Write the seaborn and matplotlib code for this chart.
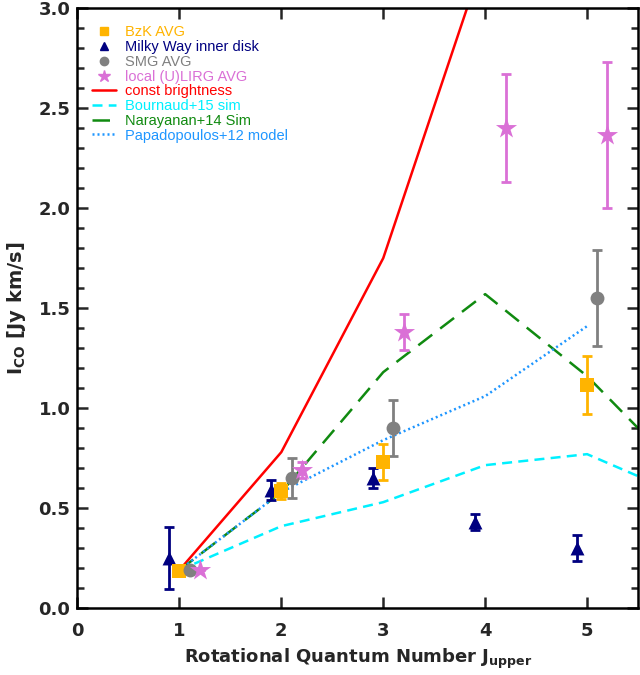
import matplotlib
matplotlib.use('Agg')
import matplotlib.pyplot as plt
from matplotlib.lines import Line2D
from matplotlib.ticker import MultipleLocator, FormatStrFormatter
import pandas as pd
import seaborn as sns

# values
J_MODEL = [1, 2, 3, 4, 5, 6]
CONST_BRIGHT = [0.19, 0.78, 1.75, 3.27, 4.95, 7.0]
BOURNAUD = [0.19, 0.41, 0.53, 0.715, 0.77, 0.55]
NARAYANAN = [0.19, 0.58, 1.18, 1.57, 1.16, 0.64]
J_PAPA = [1, 2, 3, 4, 5]
PAPADOPOULOS = [0.19, 0.58, 0.84, 1.06, 1.41]

J_BZK = [1.0, 2.0, 3.0, 5.0]
BZK = [0.187, 0.585, 0.73, 1.115]
BZK_ERR = [0.0, 0.04, 0.09, 0.145]

J_MW = [0.9, 1.9, 2.9, 3.9, 4.9]
MW = [0.25, 0.59, 0.65, 0.43, 0.30]
MW_ERR = [0.155, 0.05, 0.05, 0.04, 0.065]

J_SMG = [1.1, 2.1, 3.1, 5.1]
SMG = [0.19, 0.65, 0.90, 1.55]
SMG_ERR = [0.0, 0.10, 0.14, 0.24]

J_LIRG = [1.2, 2.2, 3.2, 4.2, 5.2]
LIRG = [0.19, 0.69, 1.38, 2.40, 2.365]
LIRG_ERR = [0.0, 0.04, 0.09, 0.27, 0.365]

C_BZK = '#FFB400'
C_MW = '#000080'
C_SMG = '#808080'
C_LIRG = '#DA70D6'
C_RED = '#FF0000'
C_CYAN = '#00F0FF'
C_GREEN = '#108A10'
C_BLUE = '#1E96FF'

sns.set_theme(style="ticks")
plt.rcParams['font.family'] = ['DejaVu Sans']
plt.rcParams['mathtext.default'] = 'bf'

fig = plt.figure(figsize=(6.4, 6.75), dpi=100)
ax = fig.add_axes([0.121, 0.099, 0.876, 0.889])

# model curves
lines = [
    (J_MODEL, CONST_BRIGHT, C_RED, None, 'const brightness'),
    (J_MODEL, BOURNAUD, C_CYAN, (4, 2.5), 'Bournaud+15 sim'),
    (J_MODEL, NARAYANAN, C_GREEN, (7, 4), 'Narayanan+14 Sim'),
    (J_PAPA, PAPADOPOULOS, C_BLUE, (0.8, 1.2), 'Papadopoulos+12 model'),
]
for xs, ys, col, dash, name in lines:
    df = pd.DataFrame({'J': xs, 'I': ys})
    l = sns.lineplot(data=df, x='J', y='I', color=col, lw=1.8, ax=ax, zorder=2)
    if dash is not None:
        l.lines[-1].set_dashes(dash)

# data points with error bars
points = [
    (J_MW, MW, MW_ERR, C_MW, '^', 10, 'Milky Way inner disk'),
    (J_BZK, BZK, BZK_ERR, C_BZK, 's', 10, 'BzK AVG'),
    (J_SMG, SMG, SMG_ERR, C_SMG, 'o', 10, 'SMG AVG'),
    (J_LIRG, LIRG, LIRG_ERR, C_LIRG, '*', 16, 'local (U)LIRG AVG'),
]
for xs, ys, errs, col, mk, ms, name in points:
    ax.errorbar(xs, ys, yerr=errs, fmt='none', ecolor=col, elinewidth=2,
                capsize=3.5, capthick=2, zorder=3)
    df = pd.DataFrame({'J': xs, 'I': ys})
    sns.scatterplot(data=df, x='J', y='I', color=col, marker=mk, s=ms ** 2,
                    linewidth=0, ax=ax, zorder=4)

ax.set_xlim(0, 5.5)
ax.set_ylim(0, 3.0)
ax.xaxis.set_major_locator(MultipleLocator(1))
ax.yaxis.set_major_locator(MultipleLocator(0.5))
ax.yaxis.set_minor_locator(MultipleLocator(0.1))
ax.yaxis.set_major_formatter(FormatStrFormatter('%.1f'))
ax.tick_params(which='both', direction='in', top=True, right=True, width=1.8,
               labelsize=13)
ax.tick_params(axis='x', which='major', pad=10)
ax.tick_params(axis='y', which='major', pad=5)
ax.tick_params(which='major', length=8)
ax.tick_params(which='minor', length=5)
for lab in ax.get_xticklabels() + ax.get_yticklabels():
    lab.set_fontweight('bold')
for sp in ax.spines.values():
    sp.set_linewidth(1.8)
    sp.set_color('black')

ax.set_xlabel('Rotational Quantum Number J$_{upper}$', fontsize=13,
              fontweight='bold', labelpad=5)
ax.set_ylabel('I$_{CO}$ [Jy km/s]', fontsize=14, fontweight='bold', labelpad=8)

handles = [
    Line2D([], [], ls='none', marker='s', color=C_BZK, ms=6),
    Line2D([], [], ls='none', marker='^', color=C_MW, ms=6),
    Line2D([], [], ls='none', marker='o', color=C_SMG, ms=6),
    Line2D([], [], ls='none', marker='*', color=C_LIRG, ms=9),
    Line2D([], [], color=C_RED, lw=1.8),
    Line2D([], [], color=C_CYAN, lw=1.8, dashes=(4, 2.5)),
    Line2D([], [], color=C_GREEN, lw=1.8, dashes=(7, 4)),
    Line2D([], [], color=C_BLUE, lw=1.8, dashes=(0.8, 1.2)),
]
labels = ['BzK AVG', 'Milky Way inner disk', 'SMG AVG', 'local (U)LIRG AVG',
          'const brightness', 'Bournaud+15 sim', 'Narayanan+14 Sim',
          'Papadopoulos+12 model']
colors = [C_BZK, C_MW, C_SMG, C_LIRG, C_RED, C_CYAN, C_GREEN, C_BLUE]
leg = ax.legend(handles, labels, loc='upper left', bbox_to_anchor=(0.02, 0.976),
                frameon=False, prop={'family': 'Liberation Sans', 'size': 10.5},
                handlelength=1.7, handletextpad=0.6,
                labelspacing=0.05, borderpad=0.2, borderaxespad=0)
for txt, col in zip(leg.get_texts(), colors):
    txt.set_color(col)

fig.savefig('out.png', dpi=100)
